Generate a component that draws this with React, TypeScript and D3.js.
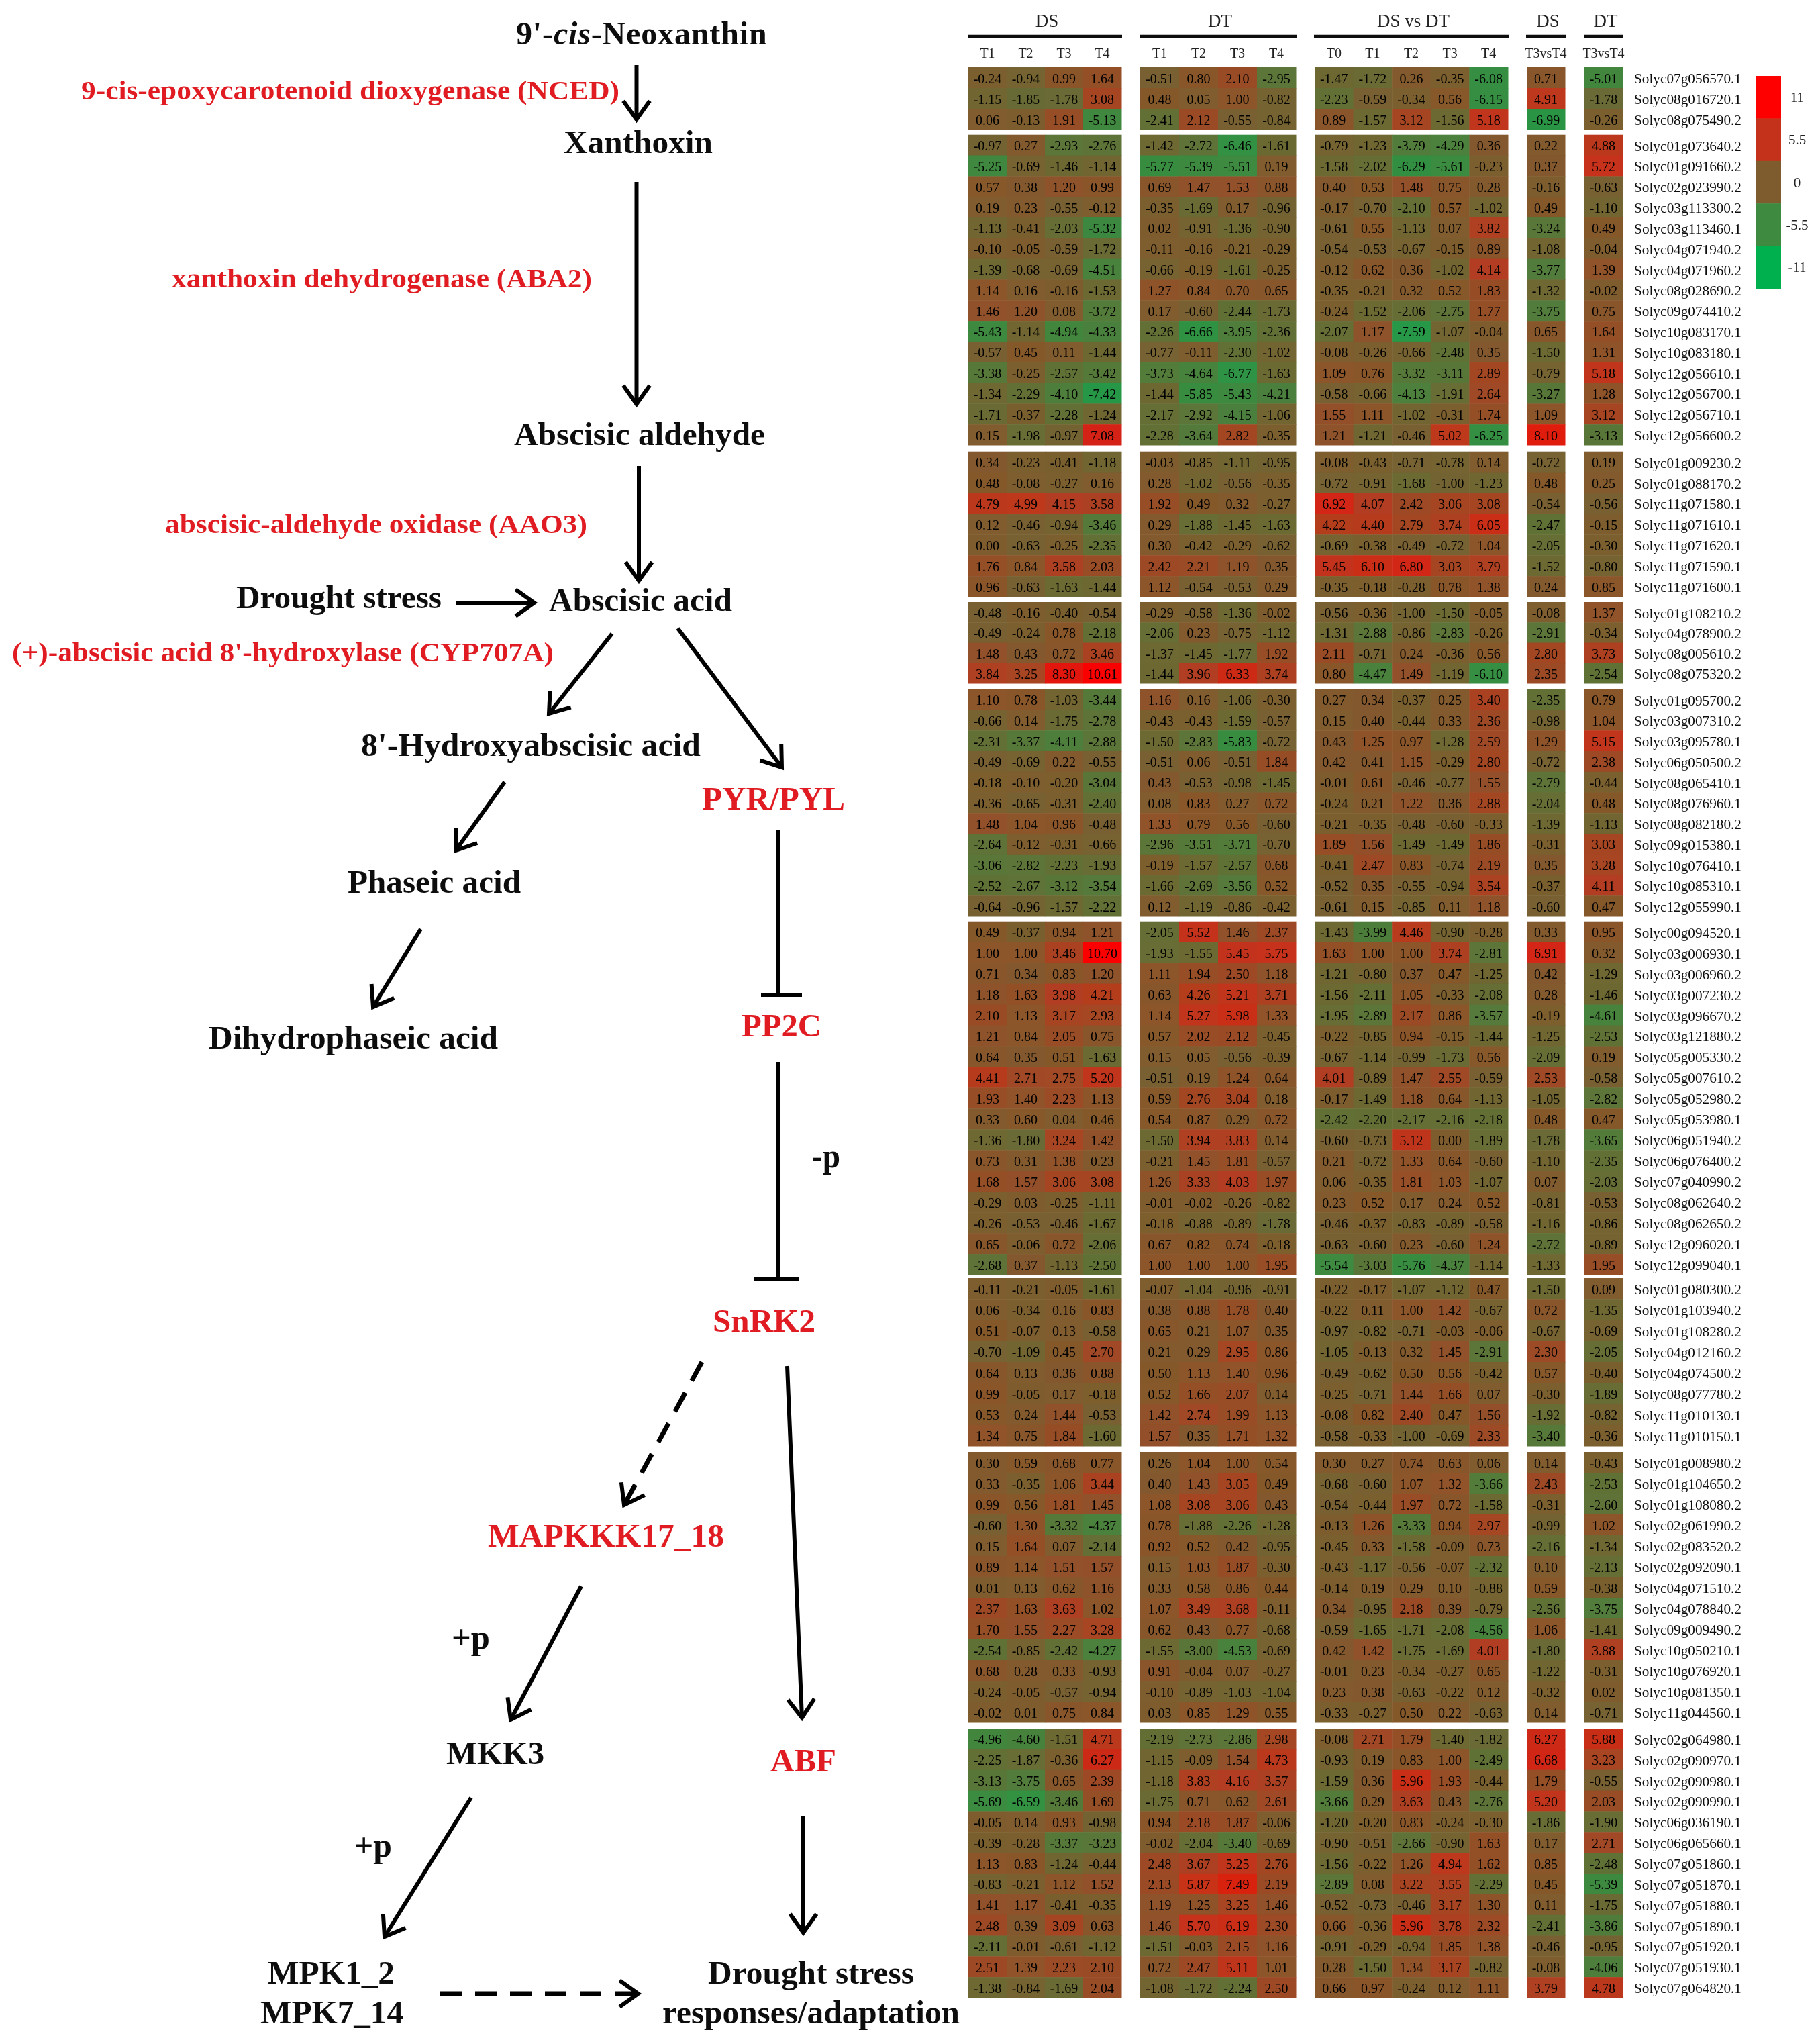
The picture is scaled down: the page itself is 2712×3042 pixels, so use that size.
import React from "react";
import * as d3 from "d3";

// ---------- heatmap data: gene names and values by cluster ----------
// each row: DS T1-T4, DT T1-T4, DS vs DT T0-T4, DS T3vsT4, DT T3vsT4
const genes1 = ["Solyc07g056570.1", "Solyc08g016720.1", "Solyc08g075490.2"];
const values1 = [
  [-0.24, -0.94, 0.99, 1.64, -0.51, 0.8, 2.1, -2.95, -1.47, -1.72, 0.26, -0.35, -6.08, 0.71, -5.01],
  [-1.15, -1.85, -1.78, 3.08, 0.48, 0.05, 1.0, -0.82, -2.23, -0.59, -0.34, 0.56, -6.15, 4.91, -1.78],
  [0.06, -0.13, 1.91, -5.13, -2.41, 2.12, -0.55, -0.84, 0.89, -1.57, 3.12, -1.56, 5.18, -6.99, -0.26],
];
const genes2 = ["Solyc01g073640.2", "Solyc01g091660.2", "Solyc02g023990.2", "Solyc03g113300.2", "Solyc03g113460.1", "Solyc04g071940.2", "Solyc04g071960.2", "Solyc08g028690.2", "Solyc09g074410.2", "Solyc10g083170.1", "Solyc10g083180.1", "Solyc12g056610.1", "Solyc12g056700.1", "Solyc12g056710.1", "Solyc12g056600.2"];
const values2 = [
  [-0.97, 0.27, -2.93, -2.76, -1.42, -2.72, -6.46, -1.61, -0.79, -1.23, -3.79, -4.29, 0.36, 0.22, 4.88],
  [-5.25, -0.69, -1.46, -1.14, -5.77, -5.39, -5.51, 0.19, -1.58, -2.02, -6.29, -5.61, -0.23, 0.37, 5.72],
  [0.57, 0.38, 1.2, 0.99, 0.69, 1.47, 1.53, 0.88, 0.4, 0.53, 1.48, 0.75, 0.28, -0.16, -0.63],
  [0.19, 0.23, -0.55, -0.12, -0.35, -1.69, 0.17, -0.96, -0.17, -0.7, -2.1, 0.57, -1.02, 0.49, -1.1],
  [-1.13, -0.41, -2.03, -5.32, 0.02, -0.91, -1.36, -0.9, -0.61, 0.55, -1.13, 0.07, 3.82, -3.24, 0.49],
  [-0.1, -0.05, -0.59, -1.72, -0.11, -0.16, -0.21, -0.29, -0.54, -0.53, -0.67, -0.15, 0.89, -1.08, -0.04],
  [-1.39, -0.68, -0.69, -4.51, -0.66, -0.19, -1.61, -0.25, -0.12, 0.62, 0.36, -1.02, 4.14, -3.77, 1.39],
  [1.14, 0.16, -0.16, -1.53, 1.27, 0.84, 0.7, 0.65, -0.35, -0.21, 0.32, 0.52, 1.83, -1.32, -0.02],
  [1.46, 1.2, 0.08, -3.72, 0.17, -0.6, -2.44, -1.73, -0.24, -1.52, -2.06, -2.75, 1.77, -3.75, 0.75],
  [-5.43, -1.14, -4.94, -4.33, -2.26, -6.66, -3.95, -2.36, -2.07, 1.17, -7.59, -1.07, -0.04, 0.65, 1.64],
  [-0.57, 0.45, 0.11, -1.44, -0.77, -0.11, -2.3, -1.02, -0.08, -0.26, -0.66, -2.48, 0.35, -1.5, 1.31],
  [-3.38, -0.25, -2.57, -3.42, -3.73, -4.64, -6.77, -1.63, 1.09, 0.76, -3.32, -3.11, 2.89, -0.79, 5.18],
  [-1.34, -2.29, -4.1, -7.42, -1.44, -5.85, -5.43, -4.21, -0.58, -0.66, -4.13, -1.91, 2.64, -3.27, 1.28],
  [-1.71, -0.37, -2.28, -1.24, -2.17, -2.92, -4.15, -1.06, 1.55, 1.11, -1.02, -0.31, 1.74, 1.09, 3.12],
  [0.15, -1.98, -0.97, 7.08, -2.28, -3.64, 2.82, -0.35, 1.21, -1.21, -0.46, 5.02, -6.25, 8.1, -3.13],
];
const genes3 = ["Solyc01g009230.2", "Solyc01g088170.2", "Solyc11g071580.1", "Solyc11g071610.1", "Solyc11g071620.1", "Solyc11g071590.1", "Solyc11g071600.1"];
const values3 = [
  [0.34, -0.23, -0.41, -1.18, -0.03, -0.85, -1.11, -0.95, -0.08, -0.43, -0.71, -0.78, 0.14, -0.72, 0.19],
  [0.48, -0.08, -0.27, 0.16, 0.28, -1.02, -0.56, -0.35, -0.72, -0.91, -1.68, -1.0, -1.23, 0.48, 0.25],
  [4.79, 4.99, 4.15, 3.58, 1.92, 0.49, 0.32, -0.27, 6.92, 4.07, 2.42, 3.06, 3.08, -0.54, -0.56],
  [0.12, -0.46, -0.94, -3.46, 0.29, -1.88, -1.45, -1.63, 4.22, 4.4, 2.79, 3.74, 6.05, -2.47, -0.15],
  [0.0, -0.63, -0.25, -2.35, 0.3, -0.42, -0.29, -0.62, -0.69, -0.38, -0.49, -0.72, 1.04, -2.05, -0.3],
  [1.76, 0.84, 3.58, 2.03, 2.42, 2.21, 1.19, 0.35, 5.45, 6.1, 6.8, 3.03, 3.79, -1.52, -0.8],
  [0.96, -0.63, -1.63, -1.44, 1.12, -0.54, -0.53, 0.29, -0.35, -0.18, -0.28, 0.78, 1.38, 0.24, 0.85],
];
const genes4 = ["Solyc01g108210.2", "Solyc04g078900.2", "Solyc08g005610.2", "Solyc08g075320.2"];
const values4 = [
  [-0.48, -0.16, -0.4, -0.54, -0.29, -0.58, -1.36, -0.02, -0.56, -0.36, -1.0, -1.5, -0.05, -0.08, 1.37],
  [-0.49, -0.24, 0.78, -2.18, -2.06, 0.23, -0.75, -1.12, -1.31, -2.88, -0.86, -2.83, -0.26, -2.91, -0.34],
  [1.48, 0.43, 0.72, 3.46, -1.37, -1.45, -1.77, 1.92, 2.11, -0.71, 0.24, -0.36, 0.56, 2.8, 3.73],
  [3.84, 3.25, 8.3, 10.61, -1.44, 3.96, 6.33, 3.74, 0.8, -4.47, 1.49, -1.19, -6.1, 2.35, -2.54],
];
const genes5 = ["Solyc01g095700.2", "Solyc03g007310.2", "Solyc03g095780.1", "Solyc06g050500.2", "Solyc08g065410.1", "Solyc08g076960.1", "Solyc08g082180.2", "Solyc09g015380.1", "Solyc10g076410.1", "Solyc10g085310.1", "Solyc12g055990.1"];
const values5 = [
  [1.1, 0.78, -1.03, -3.44, 1.16, 0.16, -1.06, -0.3, 0.27, 0.34, -0.37, 0.25, 3.4, -2.35, 0.79],
  [-0.66, 0.14, -1.75, -2.78, -0.43, -0.43, -1.59, -0.57, 0.15, 0.4, -0.44, 0.33, 2.36, -0.98, 1.04],
  [-2.31, -3.37, -4.11, -2.88, -1.5, -2.83, -5.83, -0.72, 0.43, 1.25, 0.97, -1.28, 2.59, 1.29, 5.15],
  [-0.49, -0.69, 0.22, -0.55, -0.51, 0.06, -0.51, 1.84, 0.42, 0.41, 1.15, -0.29, 2.8, -0.72, 2.38],
  [-0.18, -0.1, -0.2, -3.04, 0.43, -0.53, -0.98, -1.45, -0.01, 0.61, -0.46, -0.77, 1.55, -2.79, -0.44],
  [-0.36, -0.65, -0.31, -2.4, 0.08, 0.83, 0.27, 0.72, -0.24, 0.21, 1.22, 0.36, 2.88, -2.04, 0.48],
  [1.48, 1.04, 0.96, -0.48, 1.33, 0.79, 0.56, -0.6, -0.21, -0.35, -0.48, -0.6, -0.33, -1.39, -1.13],
  [-2.64, -0.12, -0.31, -0.66, -2.96, -3.51, -3.71, -0.7, 1.89, 1.56, -1.49, -1.49, 1.86, -0.31, 3.03],
  [-3.06, -2.82, -2.23, -1.93, -0.19, -1.57, -2.57, 0.68, -0.41, 2.47, 0.83, -0.74, 2.19, 0.35, 3.28],
  [-2.52, -2.67, -3.12, -3.54, -1.66, -2.69, -3.56, 0.52, -0.52, 0.35, -0.55, -0.94, 3.54, -0.37, 4.11],
  [-0.64, -0.96, -1.57, -2.22, 0.12, -1.19, -0.86, -0.42, -0.61, 0.15, -0.85, 0.11, 1.18, -0.6, 0.47],
];
const genes6 = ["Solyc00g094520.1", "Solyc03g006930.1", "Solyc03g006960.2", "Solyc03g007230.2", "Solyc03g096670.2", "Solyc03g121880.2", "Solyc05g005330.2", "Solyc05g007610.2", "Solyc05g052980.2", "Solyc05g053980.1", "Solyc06g051940.2", "Solyc06g076400.2", "Solyc07g040990.2", "Solyc08g062640.2", "Solyc08g062650.2", "Solyc12g096020.1", "Solyc12g099040.1"];
const values6 = [
  [0.49, -0.37, 0.94, 1.21, -2.05, 5.52, 1.46, 2.37, -1.43, -3.99, 4.46, -0.9, -0.28, 0.33, 0.95],
  [1.0, 1.0, 3.46, 10.7, -1.93, -1.55, 5.45, 5.75, 1.63, 1.0, 1.0, 3.74, -2.81, 6.91, 0.32],
  [0.71, 0.34, 0.83, 1.2, 1.11, 1.94, 2.5, 1.18, -1.21, -0.8, 0.37, 0.47, -1.25, 0.42, -1.29],
  [1.18, 1.63, 3.98, 4.21, 0.63, 4.26, 5.21, 3.71, -1.56, -2.11, 1.05, -0.33, -2.08, 0.28, -1.46],
  [2.1, 1.13, 3.17, 2.93, 1.14, 5.27, 5.98, 1.33, -1.95, -2.89, 2.17, 0.86, -3.57, -0.19, -4.61],
  [1.21, 0.84, 2.05, 0.75, 0.57, 2.02, 2.12, -0.45, -0.22, -0.85, 0.94, -0.15, -1.44, -1.25, -2.53],
  [0.64, 0.35, 0.51, -1.63, 0.15, 0.05, -0.56, -0.39, -0.67, -1.14, -0.99, -1.73, 0.56, -2.09, 0.19],
  [4.41, 2.71, 2.75, 5.2, -0.51, 0.19, 1.24, 0.64, 4.01, -0.89, 1.47, 2.55, -0.59, 2.53, -0.58],
  [1.93, 1.4, 2.23, 1.13, 0.59, 2.76, 3.04, 0.18, -0.17, -1.49, 1.18, 0.64, -1.13, -1.05, -2.82],
  [0.33, 0.6, 0.04, 0.46, 0.54, 0.87, 0.29, 0.72, -2.42, -2.2, -2.17, -2.16, -2.18, 0.48, 0.47],
  [-1.36, -1.8, 3.24, 1.42, -1.5, 3.94, 3.83, 0.14, -0.6, -0.73, 5.12, 0.0, -1.89, -1.78, -3.65],
  [0.73, 0.31, 1.38, 0.23, -0.21, 1.45, 1.81, -0.57, 0.21, -0.72, 1.33, 0.64, -0.6, -1.1, -2.35],
  [1.68, 1.57, 3.06, 3.08, 1.26, 3.33, 4.03, 1.97, 0.06, -0.35, 1.81, 1.03, -1.07, 0.07, -2.03],
  [-0.29, 0.03, -0.25, -1.11, -0.01, -0.02, -0.26, -0.82, 0.23, 0.52, 0.17, 0.24, 0.52, -0.81, -0.53],
  [-0.26, -0.53, -0.46, -1.67, -0.18, -0.88, -0.89, -1.78, -0.46, -0.37, -0.83, -0.89, -0.58, -1.16, -0.86],
  [0.65, -0.06, 0.72, -2.06, 0.67, 0.82, 0.74, -0.18, -0.63, -0.6, 0.23, -0.6, 1.24, -2.72, -0.89],
  [-2.68, 0.37, -1.13, -2.5, 1.0, 1.0, 1.0, 1.95, -5.54, -3.03, -5.76, -4.37, -1.14, -1.33, 1.95],
];
const genes7 = ["Solyc01g080300.2", "Solyc01g103940.2", "Solyc01g108280.2", "Solyc04g012160.2", "Solyc04g074500.2", "Solyc08g077780.2", "Solyc11g010130.1", "Solyc11g010150.1"];
const values7 = [
  [-0.11, -0.21, -0.05, -1.61, -0.07, -1.04, -0.96, -0.91, -0.22, -0.17, -1.07, -1.12, 0.47, -1.5, 0.09],
  [0.06, -0.34, 0.16, 0.83, 0.38, 0.88, 1.78, 0.4, -0.22, 0.11, 1.0, 1.42, -0.67, 0.72, -1.35],
  [0.51, -0.07, 0.13, -0.58, 0.65, 0.21, 1.07, 0.35, -0.97, -0.82, -0.71, -0.03, -0.06, -0.67, -0.69],
  [-0.7, -1.09, 0.45, 2.7, 0.21, 0.29, 2.95, 0.86, -1.05, -0.13, 0.32, 1.45, -2.91, 2.3, -2.05],
  [0.64, 0.13, 0.36, 0.88, 0.5, 1.13, 1.4, 0.96, -0.49, -0.62, 0.5, 0.56, -0.42, 0.57, -0.4],
  [0.99, -0.05, 0.17, -0.18, 0.52, 1.66, 2.07, 0.14, -0.25, -0.71, 1.44, 1.66, 0.07, -0.3, -1.89],
  [0.53, 0.24, 1.44, -0.53, 1.42, 2.74, 1.99, 1.13, -0.08, 0.82, 2.4, 0.47, 1.56, -1.92, -0.82],
  [1.34, 0.75, 1.84, -1.6, 1.57, 0.35, 1.71, 1.32, -0.58, -0.33, -1.0, -0.69, 2.33, -3.4, -0.36],
];
const genes8 = ["Solyc01g008980.2", "Solyc01g104650.2", "Solyc01g108080.2", "Solyc02g061990.2", "Solyc02g083520.2", "Solyc02g092090.1", "Solyc04g071510.2", "Solyc04g078840.2", "Solyc09g009490.2", "Solyc10g050210.1", "Solyc10g076920.1", "Solyc10g081350.1", "Solyc11g044560.1"];
const values8 = [
  [0.3, 0.59, 0.68, 0.77, 0.26, 1.04, 1.0, 0.54, 0.3, 0.27, 0.74, 0.63, 0.06, 0.14, -0.43],
  [0.33, -0.35, 1.06, 3.44, 0.4, 1.43, 3.05, 0.49, -0.68, -0.6, 1.07, 1.32, -3.66, 2.43, -2.53],
  [0.99, 0.56, 1.81, 1.45, 1.08, 3.08, 3.06, 0.43, -0.54, -0.44, 1.97, 0.72, -1.58, -0.31, -2.6],
  [-0.6, 1.3, -3.32, -4.37, 0.78, -1.88, -2.26, -1.28, -0.13, 1.26, -3.33, 0.94, 2.97, -0.99, 1.02],
  [0.15, 1.64, 0.07, -2.14, 0.92, 0.52, 0.42, -0.95, -0.45, 0.33, -1.58, -0.09, 0.73, -2.16, -1.34],
  [0.89, 1.14, 1.51, 1.57, 0.15, 1.03, 1.87, -0.3, -0.43, -1.17, -0.56, -0.07, -2.32, 0.1, -2.13],
  [0.01, 0.13, 0.62, 1.16, 0.33, 0.58, 0.86, 0.44, -0.14, 0.19, 0.29, 0.1, -0.88, 0.59, -0.38],
  [2.37, 1.63, 3.63, 1.02, 1.07, 3.49, 3.68, -0.11, 0.34, -0.95, 2.18, 0.39, -0.79, -2.56, -3.75],
  [1.7, 1.55, 2.27, 3.28, 0.62, 0.43, 0.77, -0.68, -0.59, -1.65, -1.71, -2.08, -4.56, 1.06, -1.41],
  [-2.54, -0.85, -2.42, -4.27, -1.55, -3.0, -4.53, -0.69, 0.42, 1.42, -1.75, -1.69, 4.01, -1.8, 3.88],
  [0.68, 0.28, 0.33, -0.93, 0.91, -0.04, 0.07, -0.27, -0.01, 0.23, -0.34, -0.27, 0.65, -1.22, -0.31],
  [-0.24, -0.05, -0.57, -0.94, -0.1, -0.89, -1.03, -1.04, 0.23, 0.38, -0.63, -0.22, 0.12, -0.32, 0.02],
  [-0.02, 0.01, 0.75, 0.84, 0.03, 0.85, 1.29, 0.55, -0.33, -0.27, 0.5, 0.22, -0.63, 0.14, -0.71],
];
const genes9 = ["Solyc02g064980.1", "Solyc02g090970.1", "Solyc02g090980.1", "Solyc02g090990.1", "Solyc06g036190.1", "Solyc06g065660.1", "Solyc07g051860.1", "Solyc07g051870.1", "Solyc07g051880.1", "Solyc07g051890.1", "Solyc07g051920.1", "Solyc07g051930.1", "Solyc07g064820.1"];
const values9 = [
  [-4.96, -4.6, -1.51, 4.71, -2.19, -2.73, -2.86, 2.98, -0.08, 2.71, 1.79, -1.4, -1.82, 6.27, 5.88],
  [-2.25, -1.87, -0.36, 6.27, -1.15, -0.09, 1.54, 4.73, -0.93, 0.19, 0.83, 1.0, -2.49, 6.68, 3.23],
  [-3.13, -3.75, 0.65, 2.39, -1.18, 3.83, 4.16, 3.57, -1.59, 0.36, 5.96, 1.93, -0.44, 1.79, -0.55],
  [-5.69, -6.59, -3.46, 1.69, -1.75, 0.71, 0.62, 2.61, -3.66, 0.29, 3.63, 0.43, -2.76, 5.2, 2.03],
  [-0.05, 0.14, 0.93, -0.98, 0.94, 2.18, 1.87, -0.06, -1.2, -0.2, 0.83, -0.24, -0.3, -1.86, -1.9],
  [-0.39, -0.28, -3.37, -3.23, -0.02, -2.04, -3.4, -0.69, -0.9, -0.51, -2.66, -0.9, 1.63, 0.17, 2.71],
  [1.13, 0.83, -1.24, -0.44, 2.48, 3.67, 5.25, 2.76, -1.56, -0.22, 1.26, 4.94, 1.62, 0.85, -2.48],
  [-0.83, -0.21, 1.12, 1.52, 2.13, 5.87, 7.49, 2.19, -2.89, 0.08, 3.22, 3.55, -2.29, 0.45, -5.39],
  [1.41, 1.17, -0.41, -0.35, 1.19, 1.25, 3.25, 1.46, -0.52, -0.73, -0.46, 3.17, 1.3, 0.11, -1.75],
  [2.48, 0.39, 3.09, 0.63, 1.46, 5.7, 6.19, 2.3, 0.66, -0.36, 5.96, 3.78, 2.32, -2.41, -3.86],
  [-2.11, -0.01, -0.61, -1.12, -1.51, -0.03, 2.15, 1.16, -0.91, -0.29, -0.94, 1.85, 1.38, -0.46, -0.95],
  [2.51, 1.39, 2.23, 2.1, 0.72, 2.47, 5.11, 1.01, 0.28, -1.5, 1.34, 3.17, -0.82, -0.08, -4.06],
  [-1.38, -0.84, -1.69, 2.04, -1.08, -1.72, -2.24, 2.5, 0.66, 0.97, -0.24, 0.12, 1.11, 3.79, 4.78],
];

const clusterGenes = [genes1, genes2, genes3, genes4, genes5, genes6, genes7, genes8, genes9];
const clusterValues = [values1, values2, values3, values4, values5, values6, values7, values8, values9];

const groupNames = ["DS", "DT", "DS vs DT", "DS", "DT"];
const groupColumns = [
  ["T1", "T2", "T3", "T4"],
  ["T1", "T2", "T3", "T4"],
  ["T0", "T1", "T2", "T3", "T4"],
  ["T3vsT4"],
  ["T3vsT4"],
];
const legendStops = [11, 5.5, 0, -5.5, -11];
const legendColors = ["#ff0000", "#c4331b", "#7f5c2e", "#3c8a40", "#00b050"];

// ---------- pathway text ----------
const pathwayLabels = [
  "Xanthoxin", "Abscisic aldehyde", "Drought stress", "Abscisic acid", "8'-Hydroxyabscisic acid",
  "Phaseic acid", "Dihydrophaseic acid", "MKK3", "MPK1_2", "MPK7_14", "Drought stress",
  "responses/adaptation", "+p", "+p", "-p",
];
const enzymeLabels = [
  "9-cis-epoxycarotenoid dioxygenase (NCED)", "xanthoxin dehydrogenase (ABA2)",
  "abscisic-aldehyde oxidase (AAO3)", "(+)-abscisic acid 8'-hydroxylase (CYP707A)",
  "PYR/PYL", "PP2C", "SnRK2", "MAPKKK17_18", "ABF",
];

// ---------- layout (kept apart from the data) ----------
const W = 2712;
const H = 3042;
const SERIF = "'Liberation Serif', 'Times New Roman', serif";
const RED = "#e01c22";
const clusterExtents: [number, number][] = [
  [100, 193], [200.7, 663], [672.7, 889], [897, 1018], [1026.7, 1365],
  [1372.7, 1899], [1904, 2154], [2163, 2566], [2575, 2976],
];
const groupExtents: [number, number][] = [
  [1443, 1671], [1699, 1931], [1959, 2247], [2275, 2332], [2361, 2418],
];
const labelLayout: [number, number, number, number][] = [
  [840, 228, 222, 48], [766, 663, 374, 48], [352, 906, 306, 48], [818, 910, 273, 48],
  [538, 1126, 506, 48], [518, 1330, 258, 48], [311, 1562, 431, 48], [665, 2628, 146, 48],
  [399, 2955, 189, 48], [388, 3014, 213, 48], [1055, 2955, 307, 48], [987, 3014, 443, 48],
  [673, 2456, 57, 50], [528, 2766, 56, 50], [1210, 1739, 42, 50],
];
const enzymeLayout: [number, number, number, number][] = [
  [121, 148, 802, 41], [256, 428, 626, 41], [246, 794, 629, 41], [18, 985, 807, 41],
  [1046, 1206, 213, 48], [1105, 1544, 119, 48], [1062, 1984, 153, 48], [727, 2304, 352, 48], [1148, 2639, 98, 48],
];
type Seg = { a: [number, number]; b: [number, number]; dashed?: boolean; head?: boolean };
const segments: Seg[] = [
  { a: [948.5, 97], b: [948.5, 178], head: true },
  { a: [948.5, 271], b: [948.5, 602], head: true },
  { a: [952, 694], b: [952, 865], head: true },
  { a: [679, 898], b: [796, 898], head: true },
  { a: [912, 944], b: [818, 1063], head: true },
  { a: [1010, 936], b: [1165, 1143], head: true },
  { a: [752, 1165], b: [679, 1267], head: true },
  { a: [627, 1384], b: [556, 1500], head: true },
  { a: [1159, 1237], b: [1159, 1482] },
  { a: [1134, 1482], b: [1195, 1482] },
  { a: [1159, 1582], b: [1159, 1906] },
  { a: [1124, 1906], b: [1191, 1906] },
  { a: [1046, 2029], b: [930, 2242], dashed: true, head: true },
  { a: [1173, 2035], b: [1195, 2559], head: true },
  { a: [866, 2363], b: [761, 2562], head: true },
  { a: [702, 2678], b: [573, 2885], head: true },
  { a: [1197, 2706], b: [1197, 2879], head: true },
  { a: [656, 2970], b: [951, 2970], dashed: true, head: true },
];

const color = d3.scaleLinear<string>().domain(legendStops).range(legendColors).clamp(true);
const line = d3.line();

function head(a: [number, number], b: [number, number]) {
  const ang = Math.atan2(b[1] - a[1], b[0] - a[0]);
  const len = 34;
  const spread = 0.62;
  const p1: [number, number] = [b[0] - len * Math.cos(ang - spread), b[1] - len * Math.sin(ang - spread)];
  const p2: [number, number] = [b[0] - len * Math.cos(ang + spread), b[1] - len * Math.sin(ang + spread)];
  return line([p1, b, p2]) as string;
}

function Cluster({ index }: { index: number }) {
  const genes = clusterGenes[index];
  const vals = clusterValues[index];
  const y = d3.scaleBand<number>().domain(d3.range(genes.length)).range(clusterExtents[index]);
  let offset = 0;
  return (
    <g>
      {groupColumns.map((cols, g) => {
        const x = d3.scaleBand<number>().domain(d3.range(cols.length)).range(groupExtents[g]);
        const start = offset;
        offset += cols.length;
        return (
          <g key={g}>
            {vals.map((row, r) =>
              cols.map((_, c) => (
                <rect
                  key={`${r}-${c}`}
                  x={x(c)}
                  y={y(r)}
                  width={x.bandwidth() + 0.5}
                  height={y.bandwidth() + 0.5}
                  fill={color(row[start + c])}
                />
              ))
            )}
            {vals.map((row, r) =>
              cols.map((_, c) => (
                <text
                  key={`t${r}-${c}`}
                  x={(x(c) as number) + x.bandwidth() / 2}
                  y={(y(r) as number) + y.bandwidth() / 2 + 8}
                  textAnchor="middle"
                  fontSize={20}
                  fill="#000"
                >
                  {row[start + c].toFixed(2)}
                </text>
              ))
            )}
          </g>
        );
      })}
      {genes.map((gene, r) => (
        <text
          key={gene}
          x={2435}
          y={(y(r) as number) + y.bandwidth() / 2 + 8.5}
          fontSize={20}
          fill="#111"
          textLength={160}
          lengthAdjust="spacingAndGlyphs"
        >
          {gene}
        </text>
      ))}
    </g>
  );
}

export default function App() {
  const legendY = d3.scaleBand<number>().domain(legendStops).range([113, 430]);
  return (
    <svg
      width={W}
      height={H}
      viewBox={`0 0 ${W} ${H}`}
      style={{ position: "absolute", left: 0, top: 0, background: "#fff" }}
      fontFamily={SERIF}
    >
      <defs>
        <filter id="soft" filterUnits="userSpaceOnUse" x={0} y={0} width={W} height={H}>
          <feGaussianBlur stdDeviation={0.75} />
        </filter>
      </defs>
      <rect width={W} height={H} fill="#fff" />
      <g filter="url(#soft)">
        {/* pathway */}
        <text x={769} y={66} fontSize={48} fontWeight="bold" fill="#111" letterSpacing={0.85}>
          9'-<tspan fontStyle="italic">cis</tspan>-Neoxanthin
        </text>
        {pathwayLabels.map((t, i) => {
          const [x, y, w, s] = labelLayout[i];
          return (
            <text key={i} x={x} y={y} fontSize={s} fontWeight="bold" fill="#111" textLength={w} lengthAdjust="spacingAndGlyphs">
              {t}
            </text>
          );
        })}
        {enzymeLabels.map((t, i) => {
          const [x, y, w, s] = enzymeLayout[i];
          return (
            <text key={i} x={x} y={y} fontSize={s} fontWeight="bold" fill={RED} textLength={w} lengthAdjust="spacingAndGlyphs">
              {t}
            </text>
          );
        })}
        {segments.map((s, i) => (
          <g key={i} fill="none" stroke="#000" strokeWidth={6}>
            <path
              d={line([s.a, s.b]) as string}
              strokeWidth={s.dashed ? 7 : 6}
              strokeDasharray={s.dashed ? "32 20" : undefined}
            />
            {s.head && <path d={head(s.a, s.b)} />}
          </g>
        ))}

        {/* header */}
        {groupNames.map((name, g) => {
          const [x0, x1] = groupExtents[g];
          const x = d3.scaleBand<number>().domain(d3.range(groupColumns[g].length)).range([x0, x1]);
          return (
            <g key={g}>
              <text x={(x0 + x1) / 2 + 3} y={40} textAnchor="middle" fontSize={27} fill="#222">
                {name}
              </text>
              <line x1={x0 - 1} x2={x1 + 1} y1={54} y2={54} stroke="#111" strokeWidth={4.5} />
              {groupColumns[g].map((c, i) => (
                <text key={i} x={(x(i) as number) + x.bandwidth() / 2} y={86} textAnchor="middle" fontSize={20} fill="#222">
                  {c}
                </text>
              ))}
            </g>
          );
        })}

        {/* heatmap */}
        {clusterGenes.map((_, i) => (
          <Cluster key={i} index={i} />
        ))}

        {/* legend */}
        {legendStops.map((v, i) => (
          <g key={v}>
            <rect x={2617} y={legendY(v)} width={37} height={legendY.bandwidth() + 0.5} fill={legendColors[i]} />
            <text x={2678} y={(legendY(v) as number) + legendY.bandwidth() / 2 + 7} textAnchor="middle" fontSize={21} fill="#222">
              {v}
            </text>
          </g>
        ))}
      </g>
    </svg>
  );
}
